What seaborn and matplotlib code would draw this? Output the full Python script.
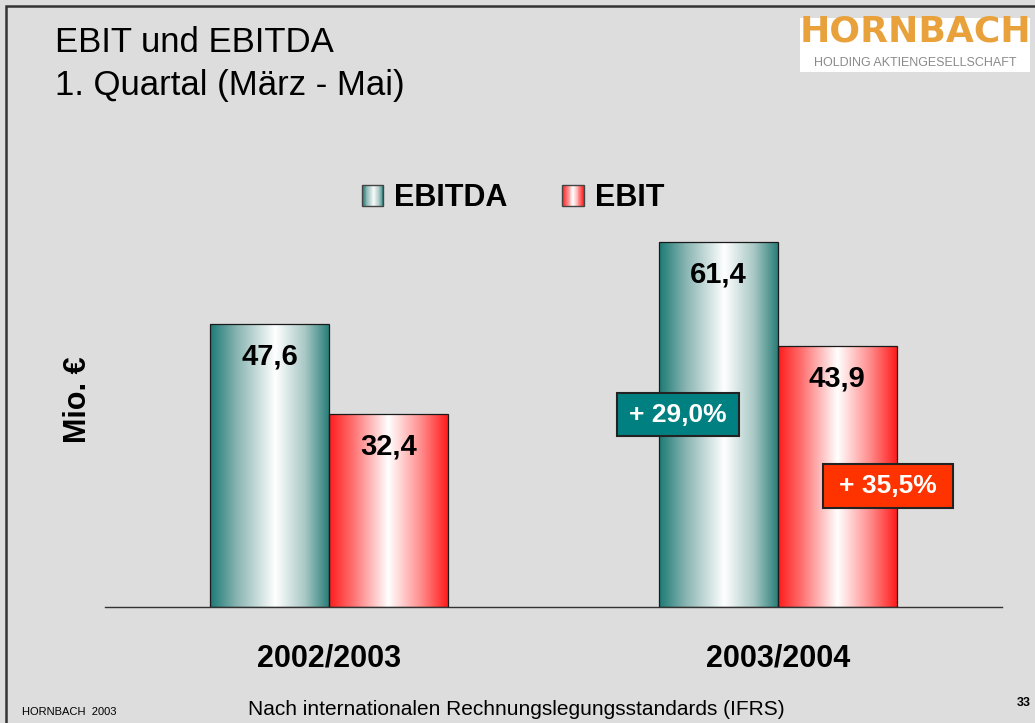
"""EBIT und EBITDA, 1. Quartal - Balkendiagramm im Folienstil."""
import numpy as np
import pandas as pd
import matplotlib
import matplotlib.pyplot as plt
import seaborn as sns
from matplotlib.colors import LinearSegmentedColormap
from matplotlib.legend_handler import HandlerBase
from matplotlib.patches import Rectangle, Patch

matplotlib.use("Agg")

# Daten
years = ["2002/2003", "2003/2004"]
series = ["EBITDA", "EBIT"]
ebitda = [47.6, 61.4]
ebit = [32.4, 43.9]

BG = "#dddddd"
TEAL = "#1c7a75"
RED = "#ff1c1c"

W, H = 1035, 723

cmaps = {
    "EBITDA": LinearSegmentedColormap.from_list(
        "teal", [(0, TEAL), (0.22, "#86b3b0"), (0.55, "#ffffff"), (0.8, "#a8c8c5"), (1, "#2a7e79")]),
    "EBIT": LinearSegmentedColormap.from_list(
        "red", [(0, RED), (0.2, "#ff7070"), (0.5, "#ffffff"), (0.78, "#ff8a8a"), (1, RED)]),
}

df = pd.DataFrame({
    "Jahr": years * 2,
    "Kennzahl": [series[0]] * len(years) + [series[1]] * len(years),
    "Wert": ebitda + ebit,
})


def fx(px):
    return px / W


def fy(px):
    return 1 - px / H


class GradientHandler(HandlerBase):
    """Legend handle drawn as a horizontal gradient square."""

    def __init__(self, cmap, n=24):
        super().__init__()
        self.cmap = cmap
        self.n = n

    def create_artists(self, legend, orig_handle, xdescent, ydescent, width, height, fontsize, trans):
        arts = []
        step = width / self.n
        for i in range(self.n):
            r = Rectangle((-xdescent + i * step, -ydescent), step * 1.05, height,
                          facecolor=self.cmap((i + 0.5) / self.n), edgecolor="none", transform=trans)
            arts.append(r)
        arts.append(Rectangle((-xdescent, -ydescent), width, height, facecolor="none",
                              edgecolor="#444444", lw=1.0, transform=trans))
        return arts


sns.set_theme(style="white")
plt.rcParams["font.family"] = ["Liberation Sans", "DejaVu Sans"]
plt.rcParams.update({"text.color": "black", "xtick.color": "black", "axes.labelcolor": "black"})

fig = plt.figure(figsize=(W / 100, H / 100), dpi=100, facecolor=BG)
ax = fig.add_axes([fx(105), fy(607), fx(1002) - fx(105), fy(191) - fy(607)])
ax.set_facecolor(BG)

sns.barplot(data=df, x="Jahr", y="Wert", hue="Kennzahl", hue_order=series,
            palette={s: c for s, c in zip(series, [TEAL, RED])}, width=0.53,
            legend=False, edgecolor="#1a1a1a", linewidth=0.9, ax=ax)

# gradient fill clipped to each bar
grad = np.linspace(0, 1, 256)[np.newaxis, :]
for name, cont in zip(series, ax.containers):
    for bar in cont:
        x0, y0 = bar.get_x(), bar.get_y()
        img = ax.imshow(grad, extent=[x0, x0 + bar.get_width(), y0, y0 + bar.get_height()],
                        cmap=cmaps[name], aspect="auto", interpolation="bilinear", zorder=2)
        img.set_clip_path(bar)
        bar.set_facecolor("none")
        bar.set_zorder(3)
        ax.annotate(f"{bar.get_height():.1f}".replace(".", ","),
                    (x0 + bar.get_width() / 2, y0 + bar.get_height()),
                    xytext=(0, -23), textcoords="offset points", ha="center", va="center",
                    fontsize=21, fontweight="bold", color="black", zorder=5)

ax.set_xlim(-0.5, 1.5)
ax.set_ylim(0, 70)
ax.set_xlabel("")
ax.set_ylabel("")
ax.set_yticks([])
ax.tick_params(axis="x", length=0, pad=26, colors="black")
for lab in ax.get_xticklabels():
    lab.set_fontsize(22)
    lab.set_fontweight("bold")
for side in ["left", "right", "top"]:
    ax.spines[side].set_visible(False)
ax.spines["bottom"].set_color("#333333")
ax.spines["bottom"].set_linewidth(1.0)

# legend
handles = [Patch(label=s) for s in series]
fig.legend(handles=handles, loc="center", bbox_to_anchor=(fx(513), fy(198)), ncol=2, frameon=False,
           prop={"weight": "bold", "size": 22}, handlelength=0.7, handleheight=0.7,
           handletextpad=0.35, columnspacing=1.8, labelcolor="black",
           handler_map={h: GradientHandler(cmaps[s]) for h, s in zip(handles, series)})

# percent change boxes
pct_ebitda = (ebitda[1] / ebitda[0] - 1) * 100
pct_ebit = (ebit[1] / ebit[0] - 1) * 100
for pct, (bx, by, bw, bh), col in [(pct_ebitda, (617, 393, 122, 43), "#008080"),
                                   (pct_ebit, (823, 464, 130, 44), "#ff3300")]:
    fig.add_artist(Rectangle((fx(bx), fy(by + bh)), bw / W, bh / H, transform=fig.transFigure,
                             facecolor=col, edgecolor="#222222", lw=1.5, zorder=4))
    fig.text(fx(bx + bw / 2), fy(by + bh / 2), f"+ {pct:.1f}%".replace(".", ","), ha="center",
             va="center", color="white", fontsize=19, fontweight="bold", zorder=5)

# titles
fig.text(fx(55), fy(52), "EBIT und EBITDA", fontsize=25, va="baseline", ha="left", color="black")
fig.text(fx(55), fy(95), "1. Quartal (März - Mai)", fontsize=25, va="baseline", ha="left", color="black")
fig.text(fx(78), fy(400), "Mio. €", rotation=90, fontsize=22, fontweight="bold", ha="center",
         va="center", color="black")

# logo
fig.add_artist(Rectangle((fx(800), fy(72)), 230 / W, 54 / H, transform=fig.transFigure,
                         facecolor="white", edgecolor="none", zorder=1))
fig.text(fx(915), fy(42), "HORNBACH", family="DejaVu Sans", fontsize=26, fontweight="bold",
         color="#e9a23b", ha="center", va="baseline", zorder=2)
fig.text(fx(915), fy(66), "HOLDING AKTIENGESELLSCHAFT", fontsize=9, color="#8a8a8a",
         ha="center", va="baseline", zorder=2)

# footer
fig.text(fx(22), fy(715), "HORNBACH  2003", fontsize=8, ha="left", va="baseline", color="black")
fig.text(fx(516), fy(715), "Nach internationalen Rechnungslegungsstandards (IFRS)", fontsize=15,
         ha="center", va="baseline", color="black")
fig.text(fx(1031), fy(706), "33", fontsize=9, fontweight="bold", ha="right", va="baseline",
         color="black")

# slide frame
fig.add_artist(Rectangle((fx(6), -0.1), 1.2, fy(6) + 0.1, transform=fig.transFigure,
                         facecolor="none", edgecolor="#333333", lw=1.8, zorder=6))

fig.savefig("out.png", dpi=100, facecolor=BG)
plt.close(fig)
